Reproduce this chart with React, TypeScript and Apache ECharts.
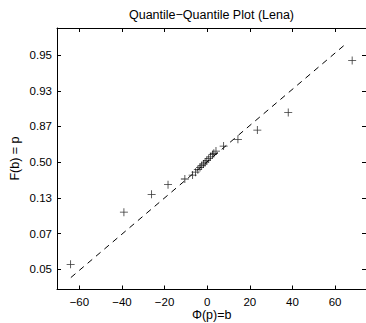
import React, { useEffect, useRef } from "react";
import * as echarts from "echarts";

// Tick positions and labels
const xTicks = [-60, -40, -20, 0, 20, 40, 60];
const yTickPos = [-3, -2, -1, 0, 1, 2, 3];
const yTickLabels = ["0.05", "0.07", "0.13", "0.50", "0.87", "0.93", "0.95"];

// Sample quantiles
const sampleX = [
  -64.1, -39.1, -26.1, -18.4, -10.5, -6.85, -5.5, -4.4, -3.4, -2.6, -1.8, -1.0,
  -0.2, 0.7, 1.5, 2.5, 3.1, 4.1, 7.7, 14.4, 23.5, 38.0, 68.0,
];
const sampleY = [
  -2.86, -1.4, -0.9, -0.63, -0.47, -0.36, -0.28, -0.21, -0.15, -0.1, -0.05, 0,
  0.05, 0.1, 0.15, 0.21, 0.25, 0.31, 0.45, 0.64, 0.9, 1.39, 2.85,
];

// Reference line end points
const refLineX = [-64, 65];
const refLineY = [-3.23, 3.31];

const X_MIN = -70.5;
const X_MAX = 74.5;
const Y_MIN = -3.564;
const Y_MAX = 3.757;

const FONT = "'Liberation Sans', Arial, Helvetica, sans-serif";

const fmtX = (v: number) => (v < 0 ? "\u2212" + Math.abs(v) : String(v));
const fmtY = (v: number) => {
  const i = yTickPos.indexOf(Math.round(v));
  return i >= 0 ? yTickLabels[i] : "";
};

export default function App() {
  const ref = useRef<HTMLDivElement>(null);
  useEffect(() => {
    if (!ref.current) return;
    const chart = echarts.init(ref.current, null, { renderer: "svg" });
    const points = sampleX.map((x, i) => [x, sampleY[i]]);
    const line = refLineX.map((x, i) => [x, refLineY[i]]);
    const axisCommon = {
      type: "value" as const,
      splitLine: { show: false },
      axisLine: { show: true, onZero: false, lineStyle: { color: "#000", width: 1 } },
    };
    chart.setOption({
      animation: false,
      backgroundColor: "#fff",
      grid: { left: 57, top: 28, right: 0, bottom: 33.5, containLabel: false },
      xAxis: [
        {
          ...axisCommon,
          position: "bottom",
          min: X_MIN,
          max: X_MAX,
          axisTick: { show: true, inside: true, length: 4, customValues: xTicks, lineStyle: { color: "#000" } },
          axisLabel: {
            show: true,
            customValues: xTicks,
            formatter: fmtX,
            margin: 6,
            color: "#000",
            fontSize: 11.5,
            fontFamily: FONT,
          },
        },
        {
          ...axisCommon,
          position: "top",
          min: X_MIN,
          max: X_MAX,
          axisTick: { show: true, inside: true, length: 4, customValues: xTicks, lineStyle: { color: "#000" } },
          axisLabel: { show: false },
        },
      ],
      yAxis: [
        {
          ...axisCommon,
          position: "left",
          min: Y_MIN,
          max: Y_MAX,
          axisTick: { show: true, inside: true, length: 4, customValues: yTickPos, lineStyle: { color: "#000" } },
          axisLabel: {
            show: true,
            customValues: yTickPos,
            formatter: fmtY,
            margin: 5,
            color: "#000",
            fontSize: 11.5,
            fontFamily: FONT,
          },
        },
        {
          ...axisCommon,
          position: "right",
          min: Y_MIN,
          max: Y_MAX,
          axisTick: { show: true, inside: true, length: 4, customValues: yTickPos, lineStyle: { color: "#000" } },
          axisLabel: { show: false },
        },
      ],
      graphic: [
        {
          type: "text",
          x: 211.5,
          y: 15,
          style: {
            text: "Quantile\u2212Quantile Plot (Lena)",
            fill: "#000",
            font: `12.5px ${FONT}`,
            textAlign: "center",
            textVerticalAlign: "middle",
          },
        },
        {
          type: "text",
          x: 211.7,
          y: 315,
          style: {
            text: "\u03A6(p)=b",
            fill: "#000",
            font: `12.5px ${FONT}`,
            textAlign: "center",
            textVerticalAlign: "middle",
          },
        },
        {
          type: "text",
          x: 15,
          y: 158.5,
          rotation: Math.PI / 2,
          style: {
            text: "F(b) = p",
            fill: "#000",
            font: `12.5px ${FONT}`,
            textAlign: "center",
            textVerticalAlign: "middle",
          },
        },
      ],
      series: [
        {
          type: "line",
          data: line,
          xAxisIndex: 0,
          yAxisIndex: 0,
          showSymbol: false,
          symbol: "none",
          lineStyle: { color: "#000", width: 1, type: [6, 5] },
          silent: true,
        },
        {
          type: "scatter",
          data: points,
          xAxisIndex: 0,
          yAxisIndex: 0,
          symbol: "path://M4.5,0h1v10h-1z M0,4.5h10v1h-10z",
          symbolSize: 8,
          itemStyle: { color: "#000" },
          silent: true,
        },
      ],
    });
    return () => chart.dispose();
  }, []);
  return (
    <div
      ref={ref}
      style={{ position: "absolute", left: 0, top: 0, width: 366, height: 323 }}
    />
  );
}
